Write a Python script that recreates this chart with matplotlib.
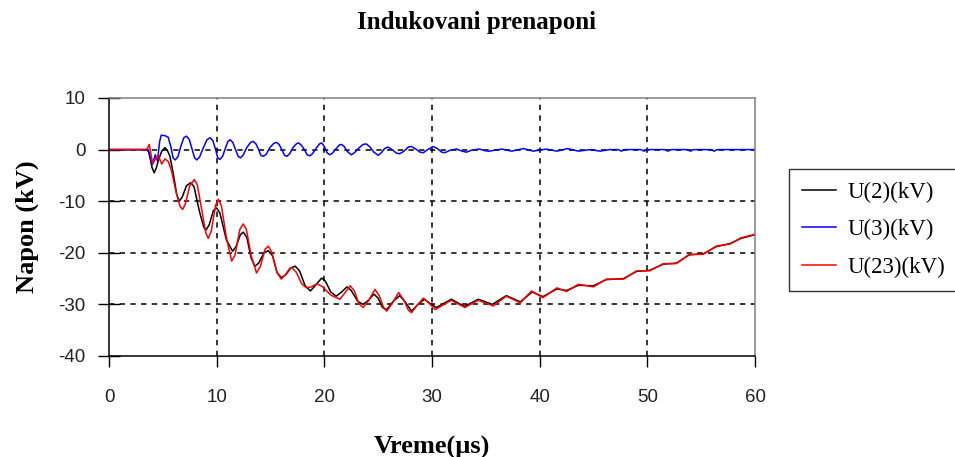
import matplotlib
matplotlib.use("Agg")
import matplotlib.pyplot as plt

plt.rcParams["axes.unicode_minus"] = False

# ---- data ----
t_u2 = [0, 3.5, 3.7, 4.0, 4.2, 4.4, 4.6, 4.9, 5.2, 5.45, 5.66, 6.0, 6.3, 6.53, 6.8, 7.2, 7.6,
        7.9, 8.4, 8.8, 9.0, 9.3, 9.7, 10.0, 10.3, 10.9, 11.48, 11.8, 12.2, 12.47, 12.8, 13.2,
        13.55, 13.9, 14.4, 14.8, 15.2, 15.6, 16.0, 16.4, 16.9, 17.3, 17.7, 18.2, 18.7, 19.1,
        19.75, 20.1, 20.6, 21.1, 21.6, 22.1, 22.5, 23.1, 23.6, 24.1, 24.6, 25.0, 25.4, 25.8,
        26.4, 27.0, 27.5, 28.1, 28.7, 29.3, 29.8, 30.4,
        31.8, 33.0, 34.3, 35.6, 36.9, 38.2, 39.3, 40.3, 41.6, 42.5, 43.6, 45.0, 46.2,
        47.8, 49.0, 50.2, 51.5, 52.7, 53.9, 55.2, 56.4, 57.7, 58.7, 60]
u2 = [0, 0, -0.5, -3.5, -4.5, -3.5, -2.0, -0.3, 0.4, -0.3, -1.3, -5.0, -8.8, -10.0, -9.2, -7.0, -6.4,
      -7.2, -12.0, -15.0, -15.6, -14.6, -11.8, -11.3, -12.3, -17.5, -19.7, -18.8, -16.5, -16.0, -17.0, -21.0,
      -22.6, -22.0, -20.0, -19.6, -20.6, -23.8, -24.8, -24.3, -22.9, -22.6, -23.5, -26.3, -27.4, -26.5,
      -24.9, -25.5, -27.6, -28.4, -27.6, -26.6, -27.3, -29.4, -30.0, -29.2, -28.0, -28.8, -30.6, -31.0,
      -29.4, -28.3, -29.5, -31.3, -30.0, -29.0, -29.8, -30.6,
      -29.0, -30.4, -29.0, -30.0, -28.3, -29.5, -27.6, -28.5, -27.0, -27.3, -26.3, -26.4, -25.2,
      -25.0, -23.6, -23.4, -22.2, -22.0, -20.4, -20.2, -18.8, -18.2, -17.2, -16.5]

t_u3 = [0, 3.65, 4.0, 4.3, 4.5, 4.7, 4.85, 5.2, 5.5, 5.75, 5.95, 6.15, 6.4, 6.65, 6.95, 7.2, 7.45,
        7.7, 7.95, 8.15, 8.4, 8.75, 9.1, 9.4, 9.65, 9.9, 10.1, 10.3, 10.55, 10.85, 11.05, 11.25,
        11.5, 11.75, 12.0, 12.2, 12.45, 12.8, 13.15, 13.4, 13.65, 13.9, 14.1, 14.35, 14.6, 14.95,
        15.3, 15.55, 15.8, 16.05, 16.3, 16.5, 16.75, 17.1, 17.4, 17.6, 17.85, 18.15, 18.4, 18.65,
        18.9, 19.25, 19.55, 19.75, 20.0, 20.25, 20.5, 20.75, 21.1, 21.4, 21.6, 21.85, 22.1, 22.5,
        22.8, 23.2, 23.6, 23.9, 24.2, 24.6, 25.0, 25.3, 25.6, 25.9, 26.3, 26.7, 27.0, 27.4, 27.8,
        28.1, 28.5, 28.9, 29.2, 29.6, 30.1, 30.5, 30.9, 31.2, 31.7, 32.3, 32.8, 33.2, 33.7, 34.4,
        34.9, 35.3, 36.5, 37.4, 38.5, 39.4, 40.6, 41.6, 42.6, 43.6, 44.7, 45.6, 46.5,
        47.3, 47.6, 47.9, 49.4, 49.7, 50.0, 51.6, 51.9, 52.2, 53.7, 54.0, 54.3, 55.9, 56.2, 56.5, 60]
u3 = [0, 0, -3.0, -1.0, -2.2, 1.5, 2.8, 2.7, 2.4, 0.5, -1.6, -2.0, -1.4, 0.5, 2.3, 2.6, 2.0,
      0.2, -1.6, -2.0, -1.5, 0.3, 1.9, 2.3, 1.7, 0.0, -1.6, -1.9, -1.3, 0.5, 1.6, 1.9,
      1.4, 0.0, -1.3, -1.6, -1.1, 0.4, 1.4, 1.6, 1.1, 0.0, -1.1, -1.3, -0.9, 0.4,
      1.2, 1.4, 1.0, 0.0, -1.1, -1.3, -0.9, 0.4, 1.1, 1.3, 0.9, 0.0, -1.0, -1.2,
      -0.8, 0.3, 1.1, 1.3, 0.6, -0.6, -1.0, -0.7, 0.2, 0.9, 1.0, 0.6, -0.3, -1.0,
      -0.6, 0.3, 1.0, 1.1, 0.6, -0.5, -1.1, -0.6, 0.2, 0.5, 0.0, -0.7, -0.8, -0.3, 0.5,
      0.6, 0.1, -0.5, -0.6, 0.0, 0.6, 0.2, -0.5, -0.6, -0.1, 0.1, -0.3, -0.5, -0.1, 0.1,
      -0.2, -0.3, 0.1, -0.3, 0.2, -0.3, 0.1, -0.3, 0.2, -0.3, 0.0, -0.3, 0.0,
      0.0, -0.3, 0.0, 0.0, -0.3, 0.0, 0.0, -0.3, 0.0, 0.0, -0.3, 0.0, 0.0, -0.3, 0.0, 0.0]

t_u23 = [0, 3.5, 3.74, 4.06, 4.3, 4.58, 4.9, 5.2, 5.5, 5.8, 6.2, 6.6, 6.84, 7.1, 7.5, 7.92, 8.2,
         8.6, 9.0, 9.22, 9.5, 9.9, 10.15, 10.45, 10.9, 11.39, 11.7, 12.15, 12.47, 12.75, 13.2,
         13.7, 14.05, 14.5, 14.8, 15.1, 15.6, 16.0, 16.4, 16.8, 17.0, 17.4, 17.9, 18.35, 18.8,
         19.3, 19.8, 20.6, 21.45, 21.9, 22.4, 22.8, 23.2, 23.6, 24.1, 24.7, 25.1, 25.5, 25.8,
         26.3, 26.9, 27.4, 27.8, 28.1, 28.6, 29.2, 29.7, 30.3,
         31.8, 33.05, 34.3, 35.7, 36.9, 38.2, 39.25, 40.3, 41.6, 42.5, 43.6, 45.0, 46.2, 47.8,
         49.0, 50.2, 51.5, 52.7, 53.9, 55.2, 56.4, 57.7, 58.7, 60]
u23 = [0, 0, 1.0, -2.8, -1.8, -1.2, -2.8, -1.8, -2.3, -4.0, -8.0, -11.0, -11.6, -10.5, -7.0, -5.8, -6.8,
       -11.5, -16.2, -17.2, -15.8, -10.8, -9.6, -11.0, -17.0, -21.6, -20.5, -15.5, -14.4, -15.4, -20.5,
       -23.9, -22.7, -19.3, -18.7, -19.8, -23.8, -25.1, -24.2, -23.0, -22.9, -23.8, -26.0, -26.8, -26.6,
       -26.0, -26.5, -28.2, -29.0, -27.8, -26.4, -27.4, -29.8, -30.6, -29.3, -27.1, -28.3, -30.6, -31.3,
       -29.8, -27.7, -29.2, -31.1, -31.6, -30.2, -28.8, -29.7, -31.0,
       -29.2, -30.6, -29.2, -30.3, -28.4, -29.7, -27.4, -28.7, -26.8, -27.5, -26.1, -26.6, -25.1, -25.1,
       -23.5, -23.5, -22.1, -22.1, -20.3, -20.3, -18.7, -18.3, -17.1, -16.4]

series_labels = ["U(2)(kV)", "U(3)(kV)", "U(23)(kV)"]
x_ticks = [0, 10, 20, 30, 40, 50, 60]
y_ticks = [-40, -30, -20, -10, 0, 10]
title = "Indukovani prenaponi"
xlabel = "Vreme(\u00b5s)"
ylabel = "Napon (kV)"

# ---- figure ----
fig = plt.figure(figsize=(9.55, 4.57), dpi=100)
ax = fig.add_axes([109 / 955, 1 - 356 / 457, (755 - 109) / 955, (356 - 98) / 457])

ax.plot(t_u2, u2, color="black", lw=1.1, label=series_labels[0])
ax.plot(t_u3, u3, color="#0000ff", lw=1.1, label=series_labels[1])
ax.plot(t_u23, u23, color="#ff0000", lw=1.1, label=series_labels[2])

ax.set_xlim(0, 60)
ax.set_ylim(-40, 10)
ax.set_xticks(x_ticks)
ax.set_yticks(y_ticks)

sans = "Liberation Sans"
serif = "Liberation Serif"
ax.tick_params(axis="y", direction="inout", length=16, width=1, pad=9, labelsize=13.5)
ax.tick_params(axis="x", direction="out", length=8, width=1, pad=16, labelsize=13.5)
for lbl in ax.get_xticklabels() + ax.get_yticklabels():
    lbl.set_fontfamily(sans)
    lbl.set_color("#222222")

# grid lines only at interior positions
for xv in x_ticks[1:-1]:
    ax.axvline(xv, color="black", lw=1.1, ls=(0, (3.5, 3.5)), zorder=0.5)
for yv in y_ticks[1:-1]:
    ax.axhline(yv, color="black", lw=1.1, ls=(0, (3.5, 3.5)), zorder=0.5)

ax.spines["left"].set_color("black")
ax.spines["bottom"].set_color("black")
ax.spines["top"].set_color("#808080")
ax.spines["right"].set_color("#808080")
for s in ax.spines.values():
    s.set_linewidth(1.1)

fig.text(476 / 955, 1 - 23 / 457, title, ha="center", va="center",
         fontfamily=serif, fontweight="bold", fontsize=18)
ax.set_xlabel(xlabel, fontfamily=serif, fontweight="bold", fontsize=19, labelpad=21)
ax.set_ylabel(ylabel, fontfamily=serif, fontweight="bold", fontsize=19, labelpad=14)

leg = fig.legend(loc="upper left", bbox_to_anchor=(789 / 955, 1 - 169 / 457),
                 prop={"family": serif, "size": 16.5}, frameon=True, fancybox=False,
                 edgecolor="black", handlelength=1.5, handletextpad=0.52,
                 labelspacing=0.72, borderpad=0.55, borderaxespad=0)
leg.get_frame().set_linewidth(1.0)

fig.savefig("out.png", dpi=100)
